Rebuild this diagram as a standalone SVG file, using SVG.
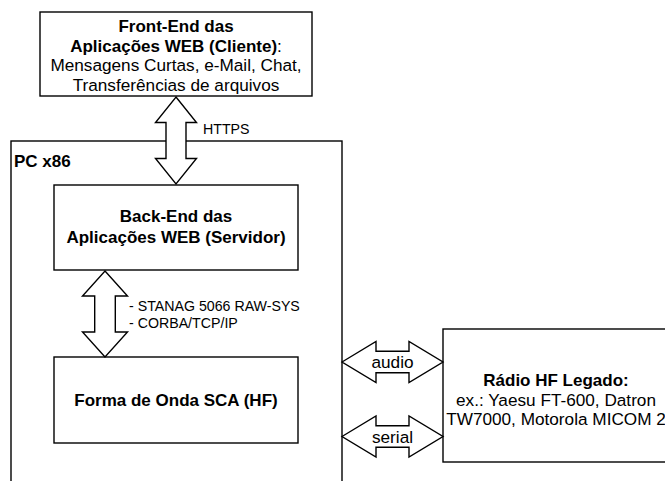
<svg xmlns="http://www.w3.org/2000/svg" width="665" height="481" viewBox="0 0 665 481">
<style>
.box{fill:#fff;stroke:#000;stroke-width:1.4}
.frame{fill:none;stroke:#000;stroke-width:1.4}
.arr{fill:#fff;stroke:#000;stroke-width:1.4;stroke-linejoin:miter}
.t{font-family:"Liberation Sans",Arial,sans-serif;font-size:17.2px;fill:#000;text-anchor:middle}
.b{font-weight:bold;font-size:17px}
.lbl{font-family:"Liberation Sans",Arial,sans-serif;font-size:14.2px;fill:#000}
</style>
<rect width="665" height="481" fill="#fff"/>
<g id="pc">
<rect class="frame" x="11" y="141" width="331" height="360"/>
<text class="t b" x="14" y="167" style="text-anchor:start">PC x86</text>
</g>
<g id="frontend">
<rect class="box" x="40" y="12" width="272" height="84"/>
<text class="t" x="176" y="31.7"><tspan class="b">Front-End das</tspan></text>
<text class="t" x="176" y="51.5"><tspan class="b">Aplicações WEB (Cliente)</tspan>:</text>
<text class="t" x="176" y="71">Mensagens Curtas, e-Mail, Chat,</text>
<text class="t" x="176" y="90.5">Transferências de arquivos</text>
</g>
<g id="backend">
<rect class="box" x="54" y="185" width="244" height="85"/>
<text class="t b" x="176" y="222">Back-End das</text>
<text class="t b" x="176" y="243">Aplicações WEB (Servidor)</text>
</g>
<g id="forma">
<rect class="box" x="54" y="357" width="244" height="86"/>
<text class="t b" x="176" y="406">Forma de Onda SCA (HF)</text>
</g>
<g id="radio">
<rect class="box" x="443" y="329" width="280" height="133"/>
<text class="t b" x="556" y="386">Rádio HF Legado:</text>
<text class="t" x="556" y="405.5">ex.: Yaesu FT-600, Datron</text>
<text class="t" x="556" y="425">TW7000, Motorola MICOM 2</text>
</g>
<g id="connectors">
<polygon class="arr" points="176,97 196.5,122.5 186,122.5 186,158.5 196.5,158.5 176,184 155.5,158.5 166,158.5 166,122.5 155.5,122.5"/>
<text class="lbl" x="203" y="133.5">HTTPS</text>
<polygon class="arr" points="105,271 127.5,296 115.3,296 115.3,332 127.5,332 105,357 82.5,332 94.7,332 94.7,296 82.5,296"/>
<text class="lbl" x="129" y="311">- STANAG 5066 RAW-SYS</text>
<text class="lbl" x="129" y="328">- CORBA/TCP/IP</text>
<polygon class="arr" points="342,362 376,341.5 376,351.2 409,351.2 409,341.5 443,362 409,382.5 409,372.8 376,372.8 376,382.5"/>
<text class="t" x="392.5" y="368">audio</text>
<polygon class="arr" points="342,436.5 376,416 376,425.7 409,425.7 409,416 443,436.5 409,457 409,447.3 376,447.3 376,457"/>
<text class="t" x="392.5" y="442.5">serial</text>
</g>
</svg>
